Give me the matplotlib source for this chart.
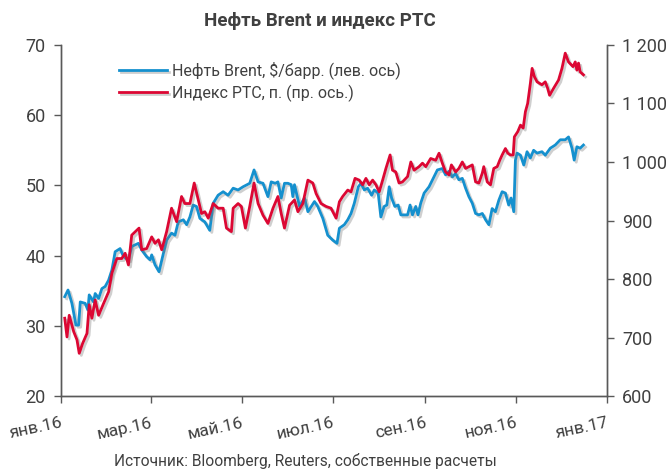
import numpy as np
import pandas as pd
import matplotlib
matplotlib.use('Agg')
import matplotlib.pyplot as plt
import matplotlib.patheffects as pe
from matplotlib.ticker import FuncFormatter

plt.rcParams['font.family'] = ['Roboto', 'DejaVu Sans']

# days since 1 Jan 2016 and values
brent_days = [2.5, 4.7, 7.3, 10.0, 11.8, 12.9, 16.2, 18.0, 18.9, 21.8, 22.9, 25.2, 27.4, 29.6, 31.9,
              34.1, 36.3, 39.6, 41.9, 45.2, 47.4, 51.9, 54.1, 57.4, 59.7, 60.8, 63.0, 65.7, 68.6, 70.8,
              74.1, 76.4, 78.6, 82.0, 84.2, 86.4, 88.6, 90.8, 93.1, 96.4, 99.7, 102.0, 105.3, 108.7,
              112.0, 115.4, 118.7, 122.0, 126.5, 129.4, 132.1, 135.4, 138.7, 140.9, 143.6, 145.4,
              147.6, 149.8, 152.1, 154.3, 155.4, 156.5, 159.9, 163.2, 165.5, 169.9, 172.1, 175.5,
              178.8, 182.2, 185.0, 186.6, 189.9, 192.2, 194.4, 196.6, 199.3, 201.1, 203.3, 205.5,
              208.2, 210.0, 212.6, 214.4, 216.6, 218.4, 220.0, 221.6, 223.8, 226.0, 227.8, 232.3,
              234.0, 235.6, 237.8, 239.3, 241.1, 243.4, 246.7, 250.0, 252.3, 255.6, 257.8, 260.1,
              262.3, 264.5, 266.7, 269.0, 271.2, 273.4, 275.7, 277.9, 280.1, 282.4, 284.6, 286.8,
              289.0, 291.2, 293.5, 295.7, 297.9, 300.1, 301.7, 303.5, 304.6, 305.7, 308.0, 310.2,
              312.4, 314.6, 316.8, 319.1, 322.4, 324.6, 328.0, 331.3, 334.7, 338.0, 340.2, 342.5,
              344.0, 345.8, 348.0, 350.2]
brent = [34.15, 35.1, 33.2, 30.1, 30.1, 33.4, 33.2, 32.25, 34.4, 33.4, 34.6, 33.9, 35.3, 35.6, 36.5,
         37.95, 40.55, 41.0, 39.85, 39.4, 41.3, 41.75, 40.8, 39.85, 39.4, 40.1, 38.7, 37.7, 40.3, 42.2,
         43.2, 42.9, 44.8, 45.1, 44.4, 45.5, 47.2, 47.0, 45.3, 44.8, 43.6, 47.45, 48.6, 49.1,
         48.6, 49.6, 49.35, 49.8, 50.3, 52.2, 50.5, 50.3, 48.4, 50.5, 50.3, 50.5,
         48.2, 50.3, 50.3, 50.1, 48.4, 50.1, 47.0, 48.2, 46.25, 47.7, 47.0, 45.3,
         42.9, 42.2, 41.75, 43.9, 44.4, 45.1, 46.0, 47.45, 49.8, 50.3, 49.35, 49.6,
         48.6, 49.35, 48.9, 45.5, 47.0, 47.2, 49.8, 48.2, 47.0, 47.2, 45.8, 45.8,
         47.2, 45.8, 47.0, 45.8, 47.45, 48.9, 49.8, 51.2, 52.2, 52.4, 51.5, 52.0,
         51.2, 51.7, 50.8, 51.0, 49.6, 48.4, 47.45, 46.0, 45.8, 46.0, 45.1, 44.4,
         46.7, 46.25, 47.9, 49.1, 48.9, 47.2, 48.2, 46.25, 53.6, 54.6, 54.3, 52.9,
         54.8, 53.9, 55.0, 54.6, 54.8, 54.3, 55.3, 55.75, 56.5, 56.5, 56.9, 55.3,
         53.6, 55.5, 55.3, 55.75]

rts_days = [2.5, 4.0, 5.5, 8.5, 10.7, 12.2, 14.5, 17.4, 18.9, 20.7, 22.9, 25.2, 28.5, 31.9, 34.1,
            37.4, 40.7, 43.0, 45.2, 47.4, 52.3, 54.1, 57.4, 60.8, 63.0, 65.3, 67.5, 70.8, 74.1,
            77.5, 80.8, 83.0, 86.4, 89.3, 92.0, 94.2, 96.4, 98.7, 102.0, 105.3, 108.7, 110.9,
            114.2, 115.4, 118.7, 120.9, 123.6, 126.5, 129.4, 132.1, 135.4, 138.7, 142.1, 145.4,
            147.6, 149.8, 153.2, 156.5, 158.8, 162.1, 165.5, 168.8, 171.0, 174.3, 177.7, 181.0,
            184.4, 186.6, 188.8, 192.2, 194.4, 197.1, 199.9, 202.2, 204.4, 206.6, 208.9, 211.1,
            213.3, 215.6, 217.8, 220.6, 222.2, 224.4, 226.6, 228.9, 232.3, 234.5, 236.7, 240.0,
            242.3, 244.5, 247.8, 251.2, 253.4, 255.6, 257.8, 260.1, 261.7, 264.5, 266.7, 269.0,
            271.2, 273.4, 275.7, 277.9, 280.1, 282.4, 283.4, 285.7, 287.9, 290.1, 292.4, 294.1,
            295.7, 297.9, 299.5, 301.3, 303.1, 303.9, 306.2, 308.0, 309.8, 311.3, 312.8, 314.6,
            315.8, 317.3, 319.1, 322.4, 324.6, 326.2, 327.5, 330.2, 333.5, 335.8, 338.0, 340.2,
            343.2, 344.7, 345.8, 346.9, 348.0, 350.2]
rts = [733, 701, 738, 710, 696, 673, 690, 707, 756, 733, 764, 738, 758, 778, 810,
       835, 835, 844, 824, 875, 887, 850, 852, 872, 861, 867, 850, 881, 921,
       898, 941, 929, 929, 964, 935, 912, 915, 904, 929, 921, 921, 887,
       881, 921, 929, 924, 887, 924, 964, 929, 909, 895, 921, 941,
       912, 887, 926, 935, 915, 929, 969, 964, 946, 929, 924, 921,
       904, 932, 941, 952, 949, 972, 969, 961, 972, 961, 969, 961,
       949, 969, 989, 1012, 986, 983, 964, 966, 975, 1000, 986, 992,
       998, 992, 1006, 1003, 1015, 998, 983, 978, 995, 983, 989, 1000,
       989, 992, 995, 966, 964, 981, 992, 966, 961, 989, 992, 1003,
       1012, 1023, 1015, 1012, 1012, 1043, 1052, 1063, 1058, 1086, 1100, 1134,
       1160, 1146, 1137, 1132, 1137, 1126, 1114, 1126, 1140, 1160, 1186, 1171,
       1163, 1171, 1157, 1169, 1154, 1149]

tick_labels = ['янв.16', 'мар.16', 'май.16', 'июл.16', 'сен.16', 'ноя.16', 'янв.17']

start = pd.Timestamp('2016-01-01')
brent_dates = start + pd.to_timedelta(brent_days, unit='D')
rts_dates = start + pd.to_timedelta(rts_days, unit='D')

blue = '#1590CE'
red = '#DC0733'
grey = '#404040'
shadow = [pe.SimpleLineShadow(offset=(1.5, -1.5), shadow_color='#777777', alpha=0.35), pe.Normal()]

fig = plt.figure(figsize=(6.72, 4.7), dpi=100)
ax = fig.add_axes([0.0908, 0.1574, 0.8125, 0.7469])
ax2 = ax.twinx()

l1, = ax.plot(brent_dates, brent, color=blue, lw=2.0, path_effects=shadow,
              label='Нефть Brent, $/барр. (лев. ось)')
l2, = ax2.plot(rts_dates, rts, color=red, lw=2.0, path_effects=shadow,
               label='Индекс РТС, п. (пр. ось.)')

ax.set_xlim(pd.Timestamp('2016-01-01'), pd.Timestamp('2017-01-01'))
ax.set_ylim(20, 70)
ax2.set_ylim(600, 1200)
ax.set_yticks(np.arange(20, 71, 10))
ax2.set_yticks(np.arange(600, 1201, 100))
ax2.yaxis.set_major_formatter(FuncFormatter(lambda v, p: '{:,.0f}'.format(v).replace(',', ' ')))

ticks = pd.date_range('2016-01-01', '2017-01-01', freq='2MS')
ax.set_xticks(ticks)
ax.set_xticklabels(tick_labels, rotation=12, ha='right', va='top', rotation_mode='anchor')

for a in (ax, ax2):
    a.spines['top'].set_visible(False)
    for s in ('left', 'right', 'bottom'):
        a.spines[s].set_color('#595959')
        a.spines[s].set_linewidth(1.0)
    a.tick_params(colors='#595959', labelcolor=grey, labelsize=13, length=5, width=1.0)
ax.tick_params(axis='y', pad=6)
ax2.tick_params(axis='y', pad=6)
ax.tick_params(axis='x', labelsize=12.5, pad=9)

ax.legend([l1, l2], [l1.get_label(), l2.get_label()], loc='upper left',
          bbox_to_anchor=(0.08, 0.995), frameon=False, fontsize=11.5, handlelength=3.0,
          handletextpad=0.3, labelspacing=0.35, labelcolor=grey)

fig.text(0.476, 0.955, 'Нефть Brent и индекс РТС', ha='center', va='center',
         fontsize=13.5, fontweight='bold', color=grey)
fig.text(0.454, 0.02, 'Источник: Bloomberg, Reuters, собственные расчеты', ha='center',
         va='center', fontsize=11.2, color=grey)

fig.savefig('out.png', dpi=100)
